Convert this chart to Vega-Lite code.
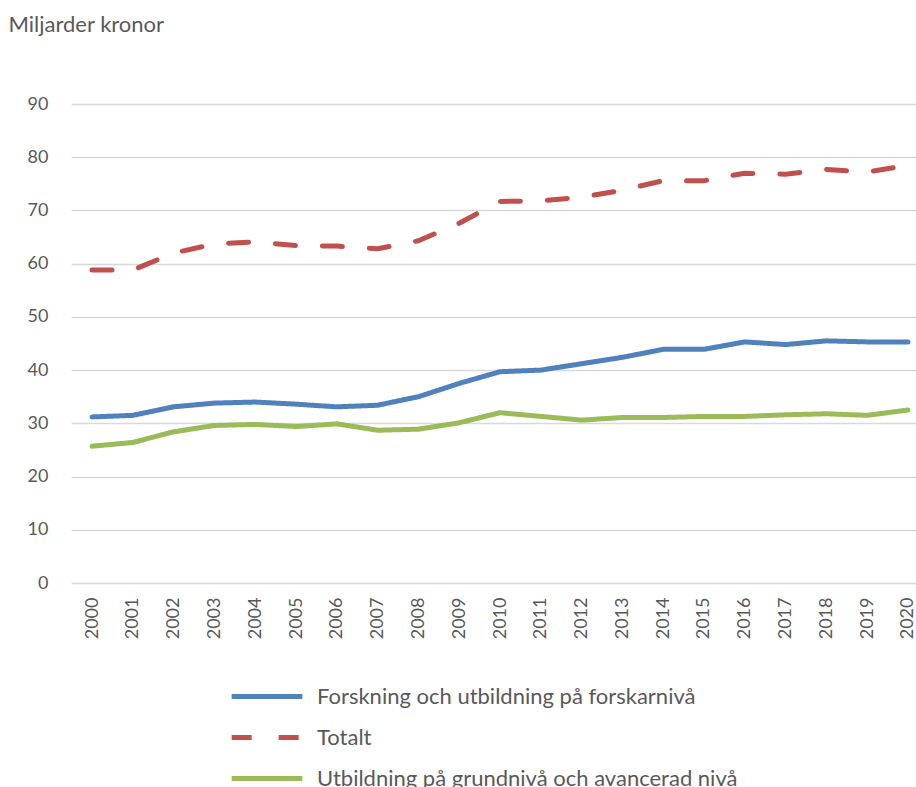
{
  "$schema": "https://vega.github.io/schema/vega-lite/v6.json",
  "width": 858,
  "height": 479,
  "autosize": {"type": "none"},
  "padding": {"left": 71, "top": 104, "right": -13, "bottom": 204},
  "background": "white",
  "config": {
    "font": "Lato",
    "view": {"stroke": null},
    "axis": {"labelColor": "#595959", "labelFontSize": 18, "labelFont": "Lato"},
    "legend": {"labelColor": "#595959", "labelFont": "Lato"}
  },
  "data": {
    "values": [
      {"year": "2000", "series": "Forskning och utbildning på forskarnivå", "value": 31.2},
      {"year": "2001", "series": "Forskning och utbildning på forskarnivå", "value": 31.5},
      {"year": "2002", "series": "Forskning och utbildning på forskarnivå", "value": 33.1},
      {"year": "2003", "series": "Forskning och utbildning på forskarnivå", "value": 33.8},
      {"year": "2004", "series": "Forskning och utbildning på forskarnivå", "value": 34.0},
      {"year": "2005", "series": "Forskning och utbildning på forskarnivå", "value": 33.6},
      {"year": "2006", "series": "Forskning och utbildning på forskarnivå", "value": 33.1},
      {"year": "2007", "series": "Forskning och utbildning på forskarnivå", "value": 33.4},
      {"year": "2008", "series": "Forskning och utbildning på forskarnivå", "value": 35.0},
      {"year": "2009", "series": "Forskning och utbildning på forskarnivå", "value": 37.5},
      {"year": "2010", "series": "Forskning och utbildning på forskarnivå", "value": 39.7},
      {"year": "2011", "series": "Forskning och utbildning på forskarnivå", "value": 40.0},
      {"year": "2012", "series": "Forskning och utbildning på forskarnivå", "value": 41.2},
      {"year": "2013", "series": "Forskning och utbildning på forskarnivå", "value": 42.4},
      {"year": "2014", "series": "Forskning och utbildning på forskarnivå", "value": 43.9},
      {"year": "2015", "series": "Forskning och utbildning på forskarnivå", "value": 43.9},
      {"year": "2016", "series": "Forskning och utbildning på forskarnivå", "value": 45.3},
      {"year": "2017", "series": "Forskning och utbildning på forskarnivå", "value": 44.8},
      {"year": "2018", "series": "Forskning och utbildning på forskarnivå", "value": 45.5},
      {"year": "2019", "series": "Forskning och utbildning på forskarnivå", "value": 45.3},
      {"year": "2020", "series": "Forskning och utbildning på forskarnivå", "value": 45.3},
      {"year": "2000", "series": "Totalt", "value": 58.8},
      {"year": "2001", "series": "Totalt", "value": 58.8},
      {"year": "2002", "series": "Totalt", "value": 62.0},
      {"year": "2003", "series": "Totalt", "value": 63.7},
      {"year": "2004", "series": "Totalt", "value": 64.1},
      {"year": "2005", "series": "Totalt", "value": 63.4},
      {"year": "2006", "series": "Totalt", "value": 63.3},
      {"year": "2007", "series": "Totalt", "value": 62.8},
      {"year": "2008", "series": "Totalt", "value": 64.3},
      {"year": "2009", "series": "Totalt", "value": 67.6},
      {"year": "2010", "series": "Totalt", "value": 71.7},
      {"year": "2011", "series": "Totalt", "value": 71.8},
      {"year": "2012", "series": "Totalt", "value": 72.5},
      {"year": "2013", "series": "Totalt", "value": 73.8},
      {"year": "2014", "series": "Totalt", "value": 75.6},
      {"year": "2015", "series": "Totalt", "value": 75.6},
      {"year": "2016", "series": "Totalt", "value": 77.0},
      {"year": "2017", "series": "Totalt", "value": 76.8},
      {"year": "2018", "series": "Totalt", "value": 77.7},
      {"year": "2019", "series": "Totalt", "value": 77.2},
      {"year": "2020", "series": "Totalt", "value": 78.5},
      {"year": "2000", "series": "Utbildning på grundnivå och avancerad nivå", "value": 25.7},
      {"year": "2001", "series": "Utbildning på grundnivå och avancerad nivå", "value": 26.4},
      {"year": "2002", "series": "Utbildning på grundnivå och avancerad nivå", "value": 28.4},
      {"year": "2003", "series": "Utbildning på grundnivå och avancerad nivå", "value": 29.6},
      {"year": "2004", "series": "Utbildning på grundnivå och avancerad nivå", "value": 29.8},
      {"year": "2005", "series": "Utbildning på grundnivå och avancerad nivå", "value": 29.4},
      {"year": "2006", "series": "Utbildning på grundnivå och avancerad nivå", "value": 29.9},
      {"year": "2007", "series": "Utbildning på grundnivå och avancerad nivå", "value": 28.7},
      {"year": "2008", "series": "Utbildning på grundnivå och avancerad nivå", "value": 28.9},
      {"year": "2009", "series": "Utbildning på grundnivå och avancerad nivå", "value": 30.1},
      {"year": "2010", "series": "Utbildning på grundnivå och avancerad nivå", "value": 32.0},
      {"year": "2011", "series": "Utbildning på grundnivå och avancerad nivå", "value": 31.3},
      {"year": "2012", "series": "Utbildning på grundnivå och avancerad nivå", "value": 30.6},
      {"year": "2013", "series": "Utbildning på grundnivå och avancerad nivå", "value": 31.1},
      {"year": "2014", "series": "Utbildning på grundnivå och avancerad nivå", "value": 31.1},
      {"year": "2015", "series": "Utbildning på grundnivå och avancerad nivå", "value": 31.3},
      {"year": "2016", "series": "Utbildning på grundnivå och avancerad nivå", "value": 31.3},
      {"year": "2017", "series": "Utbildning på grundnivå och avancerad nivå", "value": 31.6},
      {"year": "2018", "series": "Utbildning på grundnivå och avancerad nivå", "value": 31.8},
      {"year": "2019", "series": "Utbildning på grundnivå och avancerad nivå", "value": 31.5},
      {"year": "2020", "series": "Utbildning på grundnivå och avancerad nivå", "value": 32.5}
    ]
  },
  "mark": {"type": "line", "strokeWidth": 5, "strokeCap": "round", "strokeJoin": "round"},
  "encoding": {
    "x": {
      "field": "year",
      "type": "ordinal",
      "scale": {"type": "point", "padding": 0.515},
      "axis": {
        "title": null,
        "labelAngle": -90,
        "labelAlign": "right",
        "labelBaseline": "middle",
        "labelPadding": 14,
        "ticks": false,
        "domain": false,
        "grid": false
      }
    },
    "y": {
      "field": "value",
      "type": "quantitative",
      "scale": {"domain": [0, 90], "nice": false},
      "axis": {
        "values": [0, 10, 20, 30, 40, 50, 60, 70, 80, 90],
        "title": "Miljarder kronor",
        "titleAngle": 0,
        "titleAlign": "left",
        "titleBaseline": "middle",
        "titleX": -63,
        "titleY": -80,
        "titleFont": "Lato",
        "titleFontSize": 22,
        "titleFontWeight": "normal",
        "titleColor": "#595959",
        "labelPadding": 23,
        "ticks": false,
        "domain": false,
        "grid": true,
        "gridColor": "#d9d9d9",
        "gridWidth": 1.5
      }
    },
    "color": {
      "field": "series",
      "type": "nominal",
      "scale": {
        "domain": ["Forskning och utbildning på forskarnivå", "Totalt", "Utbildning på grundnivå och avancerad nivå"],
        "range": ["#4F81BD", "#C0504D", "#9BBB59"]
      },
      "legend": {
        "title": null,
        "orient": "none",
        "legendX": 158,
        "legendY": 572,
        "direction": "vertical",
        "symbolType": "stroke",
        "symbolSize": 5000,
        "symbolStrokeWidth": 5,
        "labelFontSize": 22,
        "labelOffset": 12,
        "clipHeight": 41,
        "rowPadding": 0,
        "labelLimit": 700
      }
    },
    "strokeDash": {
      "field": "series",
      "type": "nominal",
      "scale": {
        "domain": ["Forskning och utbildning på forskarnivå", "Totalt", "Utbildning på grundnivå och avancerad nivå"],
        "range": [[1, 0], [20, 27], [1, 0]]
      },
      "legend": null
    }
  }
}
